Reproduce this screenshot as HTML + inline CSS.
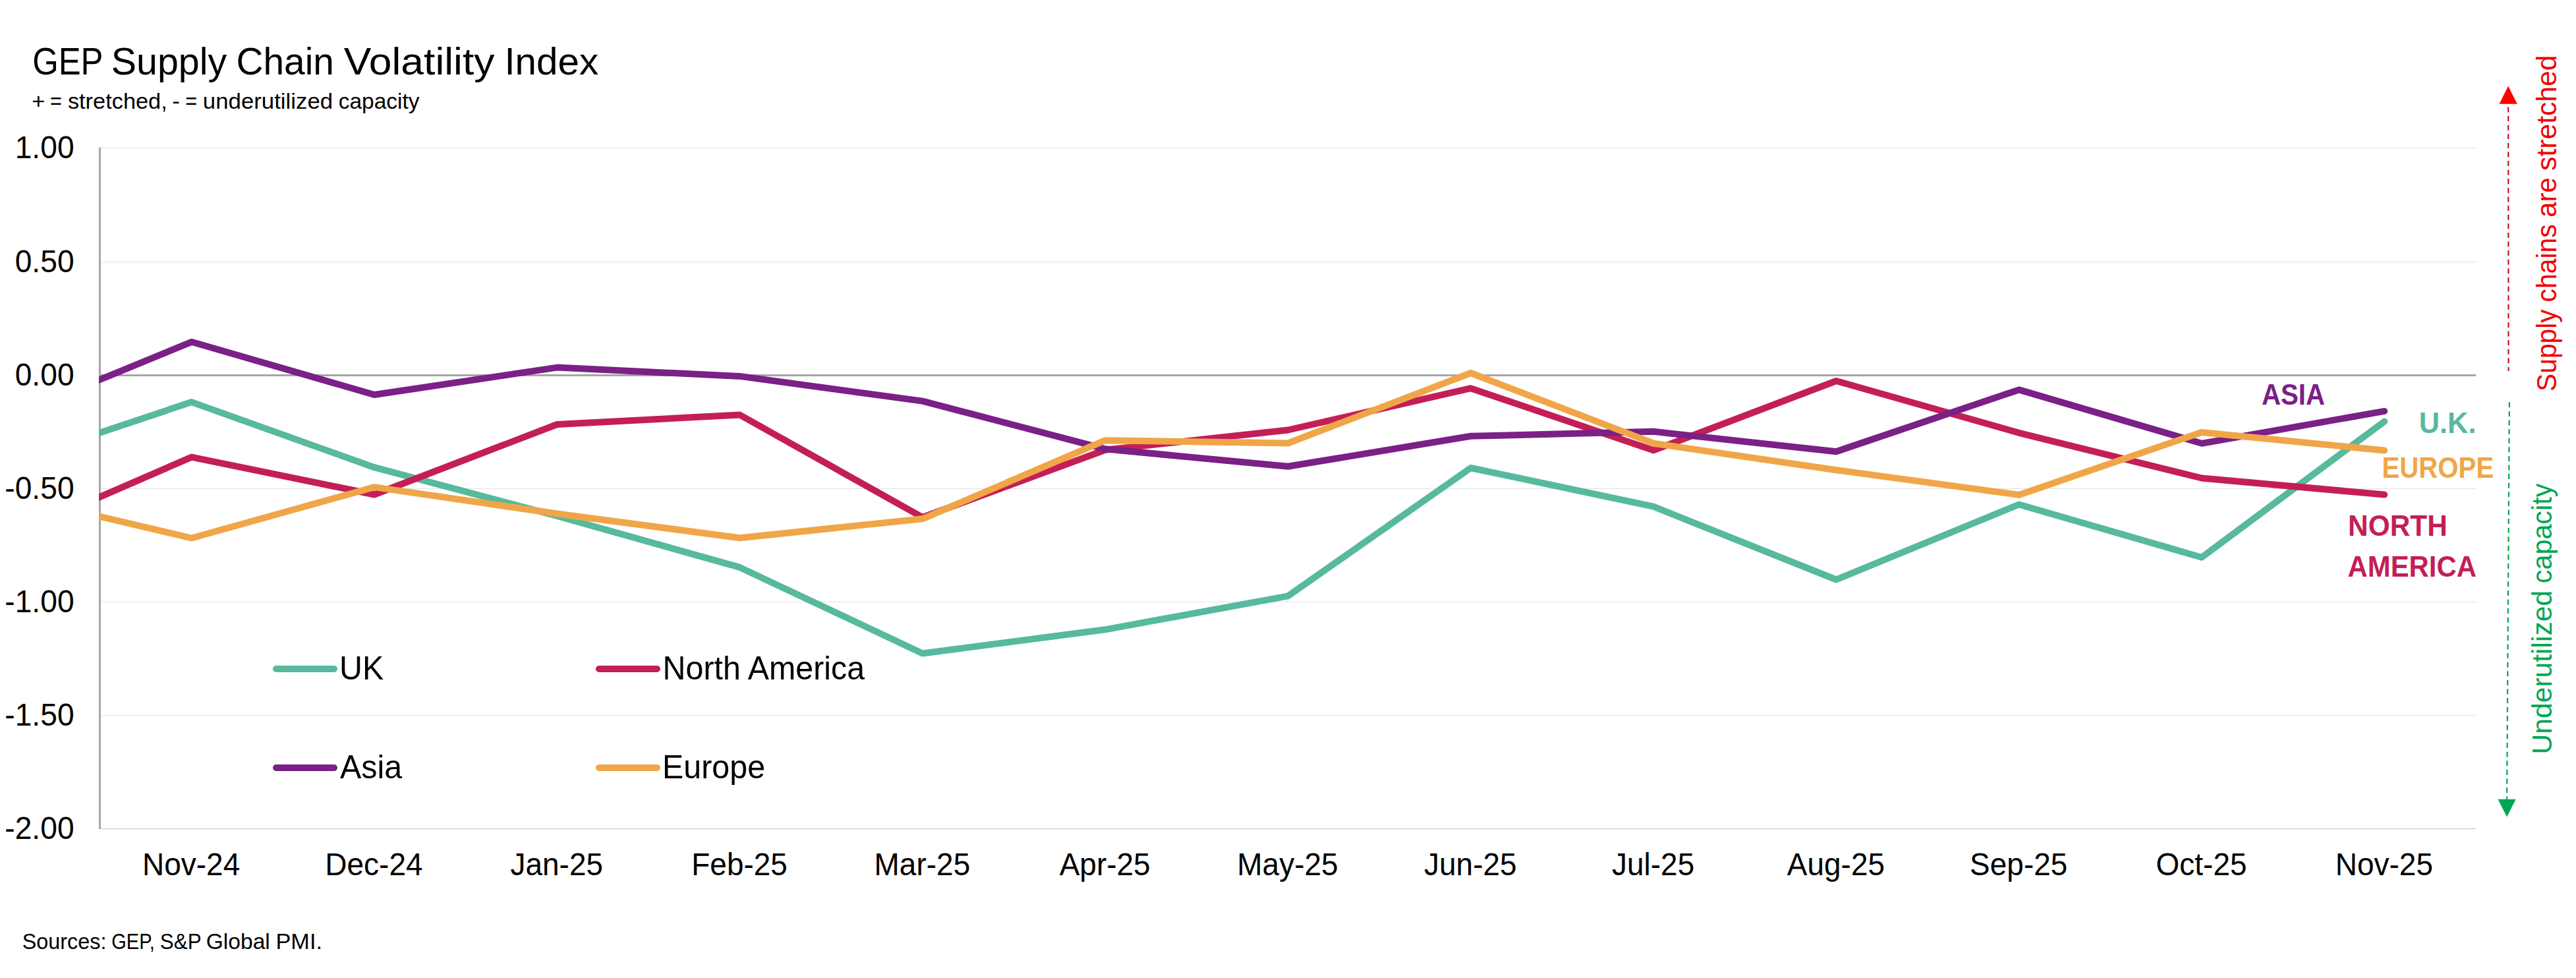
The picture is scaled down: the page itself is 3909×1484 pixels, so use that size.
<!DOCTYPE html>
<html lang="en"><head><meta charset="utf-8"><title>GEP Supply Chain Volatility Index</title>
<style>html,body{margin:0;padding:0;background:#fff}body{width:3909px;height:1484px;overflow:hidden}svg{display:block}text{font-family:"Liberation Sans",sans-serif}.b{font-weight:bold}</style></head><body>
<svg width="3909" height="1484" viewBox="0 0 3909 1484">
<rect width="3909" height="1484" fill="#fff"/>
<line x1="152.0" y1="224.50" x2="3757.0" y2="224.50" stroke="#e2e2e2" stroke-width="1"/>
<line x1="152.0" y1="397.50" x2="3757.0" y2="397.50" stroke="#e2e2e2" stroke-width="1"/>
<line x1="152.0" y1="741.50" x2="3757.0" y2="741.50" stroke="#e2e2e2" stroke-width="1"/>
<line x1="152.0" y1="913.50" x2="3757.0" y2="913.50" stroke="#e2e2e2" stroke-width="1"/>
<line x1="152.0" y1="1085.50" x2="3757.0" y2="1085.50" stroke="#e2e2e2" stroke-width="1"/>
<line x1="152.0" y1="1257.50" x2="3757.0" y2="1257.50" stroke="#c6c6c6" stroke-width="1"/>
<line x1="152.0" y1="569.50" x2="3757.0" y2="569.50" stroke="#a6a6a6" stroke-width="3"/>
<line x1="151.5" y1="224.0" x2="151.5" y2="1257.8" stroke="#a6a6a6" stroke-width="3"/>
<text y="113.00" font-size="57.50"><tspan x="49.18" textLength="106.36" lengthAdjust="spacingAndGlyphs">GEP</tspan> <tspan x="168.84" textLength="175.24" lengthAdjust="spacingAndGlyphs">Supply</tspan> <tspan x="358.38" textLength="148.55" lengthAdjust="spacingAndGlyphs">Chain</tspan> <tspan x="521.68" textLength="228.79" lengthAdjust="spacingAndGlyphs">Volatility</tspan> <tspan x="765.40" textLength="142.93" lengthAdjust="spacingAndGlyphs">Index</tspan></text>
<text y="165.00" font-size="32.50"><tspan x="48.27" textLength="20.19" lengthAdjust="spacingAndGlyphs">+</tspan> <tspan x="76.07" textLength="17.97" lengthAdjust="spacingAndGlyphs">=</tspan> <tspan x="102.90" textLength="150.87" lengthAdjust="spacingAndGlyphs">stretched,</tspan> <tspan x="261.28" textLength="11.77" lengthAdjust="spacingAndGlyphs">-</tspan> <tspan x="281.31" textLength="17.97" lengthAdjust="spacingAndGlyphs">=</tspan> <tspan x="307.83" textLength="197.31" lengthAdjust="spacingAndGlyphs">underutilized</tspan> <tspan x="513.71" textLength="122.74" lengthAdjust="spacingAndGlyphs">capacity</tspan></text>
<text y="1440.10" font-size="33.50"><tspan x="33.64" textLength="127.76" lengthAdjust="spacingAndGlyphs">Sources:</tspan> <tspan x="169.28" textLength="65.51" lengthAdjust="spacingAndGlyphs">GEP,</tspan> <tspan x="242.87" textLength="62.15" lengthAdjust="spacingAndGlyphs">S&amp;P</tspan> <tspan x="312.67" textLength="97.18" lengthAdjust="spacingAndGlyphs">Global</tspan> <tspan x="418.54" textLength="70.39" lengthAdjust="spacingAndGlyphs">PMI.</tspan></text>
<text x="112.60" y="240.10" font-size="47.35" textLength="89.92" lengthAdjust="spacingAndGlyphs" text-anchor="end">1.00</text>
<text x="112.60" y="413.10" font-size="47.35" textLength="89.92" lengthAdjust="spacingAndGlyphs" text-anchor="end">0.50</text>
<text x="112.60" y="585.10" font-size="47.35" textLength="89.92" lengthAdjust="spacingAndGlyphs" text-anchor="end">0.00</text>
<text x="112.60" y="757.10" font-size="47.35" textLength="105.30" lengthAdjust="spacingAndGlyphs" text-anchor="end">-0.50</text>
<text x="112.60" y="929.10" font-size="47.35" textLength="105.30" lengthAdjust="spacingAndGlyphs" text-anchor="end">-1.00</text>
<text x="112.60" y="1101.10" font-size="47.35" textLength="105.30" lengthAdjust="spacingAndGlyphs" text-anchor="end">-1.50</text>
<text x="112.60" y="1273.10" font-size="47.35" textLength="105.30" lengthAdjust="spacingAndGlyphs" text-anchor="end">-2.00</text>
<text x="290.15" y="1328.00" font-size="47.38" textLength="148.29" lengthAdjust="spacingAndGlyphs" text-anchor="middle">Nov-24</text>
<text x="567.46" y="1328.00" font-size="47.38" textLength="148.29" lengthAdjust="spacingAndGlyphs" text-anchor="middle">Dec-24</text>
<text x="844.77" y="1328.00" font-size="47.38" textLength="140.65" lengthAdjust="spacingAndGlyphs" text-anchor="middle">Jan-25</text>
<text x="1122.08" y="1328.00" font-size="47.38" textLength="145.75" lengthAdjust="spacingAndGlyphs" text-anchor="middle">Feb-25</text>
<text x="1399.38" y="1328.00" font-size="47.38" textLength="145.71" lengthAdjust="spacingAndGlyphs" text-anchor="middle">Mar-25</text>
<text x="1676.69" y="1328.00" font-size="47.38" textLength="138.07" lengthAdjust="spacingAndGlyphs" text-anchor="middle">Apr-25</text>
<text x="1954.00" y="1328.00" font-size="47.38" textLength="153.39" lengthAdjust="spacingAndGlyphs" text-anchor="middle">May-25</text>
<text x="2231.31" y="1328.00" font-size="47.38" textLength="140.65" lengthAdjust="spacingAndGlyphs" text-anchor="middle">Jun-25</text>
<text x="2508.62" y="1328.00" font-size="47.38" textLength="125.29" lengthAdjust="spacingAndGlyphs" text-anchor="middle">Jul-25</text>
<text x="2785.92" y="1328.00" font-size="47.38" textLength="148.33" lengthAdjust="spacingAndGlyphs" text-anchor="middle">Aug-25</text>
<text x="3063.23" y="1328.00" font-size="47.38" textLength="148.33" lengthAdjust="spacingAndGlyphs" text-anchor="middle">Sep-25</text>
<text x="3340.54" y="1328.00" font-size="47.38" textLength="138.05" lengthAdjust="spacingAndGlyphs" text-anchor="middle">Oct-25</text>
<text x="3617.85" y="1328.00" font-size="47.38" textLength="148.29" lengthAdjust="spacingAndGlyphs" text-anchor="middle">Nov-25</text>
<defs><clipPath id="pc"><rect x="150" y="200" width="3700" height="1080"/></clipPath></defs>
<g clip-path="url(#pc)" fill="none" stroke-width="10" stroke-linejoin="round" stroke-linecap="round">
<polyline points="132.0,663.1 152.0,656.4 290.7,610.1 568.0,709.2 845.3,783.0 1122.6,860.9 1399.9,991.5 1677.2,955.3 1954.5,904.4 2231.8,710.0 2509.1,768.7 2786.4,879.5 3063.7,765.5 3341.0,845.7 3618.3,639.4" stroke="#57b99e"/>
<polyline points="132.0,762.6 152.0,753.9 290.7,693.6 568.0,750.5 845.3,644.0 1122.6,629.5 1399.9,785.0 1677.2,682.8 1954.5,652.5 2231.8,589.2 2509.1,683.3 2786.4,578.0 3063.7,656.8 3341.0,725.5 3618.3,750.6" stroke="#c41e56"/>
<polyline points="132.0,584.0 152.0,575.8 290.7,518.8 568.0,599.0 845.3,557.6 1122.6,570.9 1399.9,608.6 1677.2,681.3 1954.5,707.8 2231.8,661.8 2509.1,654.8 2786.4,685.2 3063.7,591.4 3341.0,672.8 3618.3,623.9" stroke="#7a2086"/>
<polyline points="132.0,779.1 152.0,783.8 290.7,816.5 568.0,739.1 845.3,779.5 1122.6,816.2 1399.9,787.3 1677.2,668.2 1954.5,672.5 2231.8,566.0 2509.1,672.7 2786.4,713.2 3063.7,750.9 3341.0,655.9 3618.3,683.6" stroke="#f0a648"/>
</g>
<g stroke-width="10" stroke-linecap="round">
<line x1="419" y1="1015" x2="507" y2="1015" stroke="#57b99e"/>
<line x1="909" y1="1015" x2="997" y2="1015" stroke="#c41e56"/>
<line x1="419" y1="1165" x2="507" y2="1165" stroke="#7a2086"/>
<line x1="909" y1="1165" x2="997" y2="1165" stroke="#f0a648"/>
</g>
<text x="515.00" y="1031.20" font-size="50.09" textLength="67.24" lengthAdjust="spacingAndGlyphs">UK</text>
<text x="1005.60" y="1031.20" font-size="50.09" textLength="306.64" lengthAdjust="spacingAndGlyphs">North America</text>
<text x="516.00" y="1180.50" font-size="50.09" textLength="94.15" lengthAdjust="spacingAndGlyphs">Asia</text>
<text x="1005.00" y="1180.50" font-size="50.09" textLength="156.07" lengthAdjust="spacingAndGlyphs">Europe</text>
<text x="3431.99" y="613.50" font-size="45.00" textLength="96.08" lengthAdjust="spacingAndGlyphs" fill="#7a2086" class="b">ASIA</text>
<text x="3670.80" y="656.70" font-size="45.00" textLength="86.63" lengthAdjust="spacingAndGlyphs" fill="#57b99e" class="b">U.K.</text>
<text x="3614.39" y="724.80" font-size="45.00" textLength="169.85" lengthAdjust="spacingAndGlyphs" fill="#f0a648" class="b">EUROPE</text>
<text x="3563.04" y="812.70" font-size="45.00" textLength="150.82" lengthAdjust="spacingAndGlyphs" fill="#c41e56" class="b">NORTH</text>
<text x="3562.55" y="875.00" font-size="45.00" textLength="195.46" lengthAdjust="spacingAndGlyphs" fill="#c41e56" class="b">AMERICA</text>
<line x1="3806.2" y1="162.5" x2="3806.6" y2="563" stroke="#c8102e" stroke-width="2.2" stroke-dasharray="8 5.6"/>
<polygon points="3806.2,130.6 3819.8,157.8 3792.6,157.8" fill="#ff0000"/>
<line x1="3807.9" y1="610.3" x2="3804.1" y2="1213" stroke="#00a651" stroke-width="2.2" stroke-dasharray="8 5.6"/>
<polygon points="3804.1,1239.5 3817.7,1212.7 3790.5,1212.7" fill="#00a651"/>
<text transform="translate(3879.30,592.20) rotate(-90)" y="0" font-size="42.00" fill="#f00000"><tspan x="-1.84" textLength="124.80" lengthAdjust="spacingAndGlyphs">Supply</tspan> <tspan x="133.77" textLength="118.11" lengthAdjust="spacingAndGlyphs">chains</tspan> <tspan x="262.50" textLength="60.27" lengthAdjust="spacingAndGlyphs">are</tspan> <tspan x="333.28" textLength="175.46" lengthAdjust="spacingAndGlyphs">stretched</tspan></text>
<text transform="translate(3871.70,1141.30) rotate(-90)" y="0" font-size="42.00" fill="#00a651"><tspan x="-3.20" textLength="248.73" lengthAdjust="spacingAndGlyphs">Underutilized</tspan> <tspan x="256.13" textLength="151.48" lengthAdjust="spacingAndGlyphs">capacity</tspan></text>
</svg></body></html>
